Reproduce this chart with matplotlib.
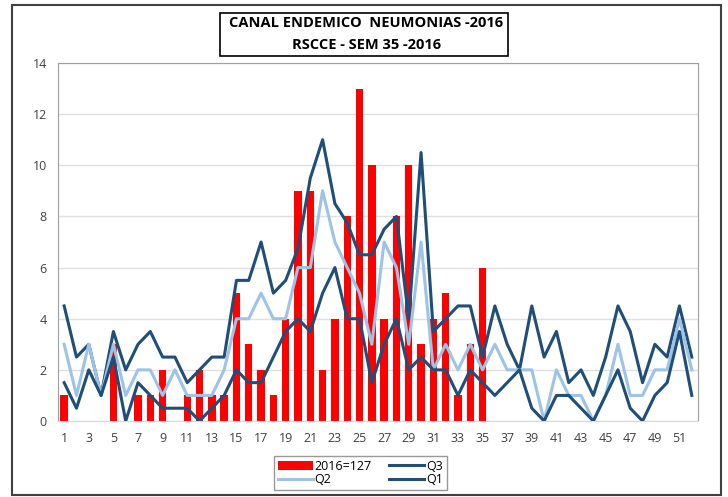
import numpy as np
import matplotlib.pyplot as plt
from matplotlib.patches import Rectangle

weeks = np.arange(1, 53)
casos_2016 = [1, 0, 0, 0, 3, 0, 1, 1, 2, 0, 1, 2, 1, 1, 5, 3, 2, 1, 4, 9,
              9, 2, 4, 8, 13, 10, 4, 8, 10, 3, 4, 5, 1, 3, 6]
q3 = [4.5, 2.5, 3, 1, 3.5, 2, 3, 3.5, 2.5, 2.5, 1.5, 2, 2.5, 2.5, 5.5, 5.5, 7, 5, 5.5, 6.75,
      9.5, 11, 8.5, 7.75, 6.5, 6.5, 7.5, 8, 4, 10.5, 3.5, 4, 4.5, 4.5, 2.5, 4.5, 3, 2, 4.5, 2.5,
      3.5, 1.5, 2, 1, 2.5, 4.5, 3.5, 1.5, 3, 2.5, 4.5, 2.5]
q2 = [3, 1, 3, 1, 3, 1, 2, 2, 1, 2, 1, 1, 1, 2, 4, 4, 5, 4, 4, 6,
      6, 9, 7, 6, 5, 3, 7, 6, 3, 7, 2, 3, 2, 3, 2, 3, 2, 2, 2, 0,
      2, 1, 1, 0, 1, 3, 1, 1, 2, 2, 4, 2]
q1 = [1.5, 0.5, 2, 1, 2.5, 0, 1.5, 1, 0.5, 0.5, 0.5, 0, 0.5, 1, 2, 1.5, 1.5, 2.5, 3.5, 4,
      3.5, 5, 6, 4, 4, 1.5, 3, 4, 2, 2.5, 2, 2, 1, 2, 1.5, 1, 1.5, 2, 0.5, 0,
      1, 1, 0.5, 0, 1, 2, 0.5, 0, 1, 1.5, 3.5, 1]

dark = '#1f4e79'
light = '#9dc3e6'
fnt = 'Open Sans'

fig = plt.figure(figsize=(7.28, 4.97), dpi=100)
ax = fig.add_axes([0.0797, 0.1529, 0.879, 0.7203])

# outer frame of the chart
fig.patches.append(Rectangle((12/728, 2/497), 709/728, 490/497, transform=fig.transFigure,
                             fill=False, edgecolor='#404040', linewidth=1.5))

bars = ax.bar(weeks[:len(casos_2016)], casos_2016, width=0.6, color='#ff0000', label='2016=127', zorder=2)
l3, = ax.plot(weeks, q3, color=dark, linewidth=2.2, label='Q3', zorder=3)
l2, = ax.plot(weeks, q2, color=light, linewidth=2.2, label='Q2', zorder=3)
l1, = ax.plot(weeks, q1, color=dark, linewidth=2.2, label='Q1', zorder=3)

ax.set_xlim(0.5, 52.5)
ax.set_ylim(0, 14)
ax.set_yticks(range(0, 15, 2))
ax.set_xticks(range(1, 53, 2))
ax.grid(axis='y', color='#e0e0e0', linewidth=1, zorder=0)
ax.tick_params(length=0, labelsize=9, labelcolor='#404040', pad=8)
for lab in ax.get_xticklabels() + ax.get_yticklabels():
    lab.set_fontfamily(fnt)
for s in ax.spines.values():
    s.set_color('#a0a0a0')
ax.spines['bottom'].set_color('#d9d9d9')

# title box
fig.patches.append(Rectangle((220/728, 1 - 56/497), 288/728, 43/497, transform=fig.transFigure,
                             fill=False, edgecolor='black', linewidth=1.2))
fig.text(0.503, 1 - 23/497, 'CANAL ENDEMICO  NEUMONIAS -2016', ha='center', va='center',
         fontsize=10.5, fontweight='bold', family=fnt)
fig.text(0.503, 1 - 45/497, 'RSCCE - SEM 35 -2016', ha='center', va='center',
         fontsize=10.5, fontweight='bold', family=fnt)

leg = fig.legend([bars, l2, l3, l1], ['2016=127', 'Q2', 'Q3', 'Q1'], ncol=2, loc='center',
                 bbox_to_anchor=(0.495, 0.048), fancybox=False, edgecolor='#808080',
                 prop={'family': fnt, 'size': 9}, handlelength=2.8, handletextpad=0.15,
                 columnspacing=1.4, labelspacing=0.05, borderpad=0.3)
leg.get_frame().set_linewidth(1)

fig.savefig('out.png', dpi=100)
